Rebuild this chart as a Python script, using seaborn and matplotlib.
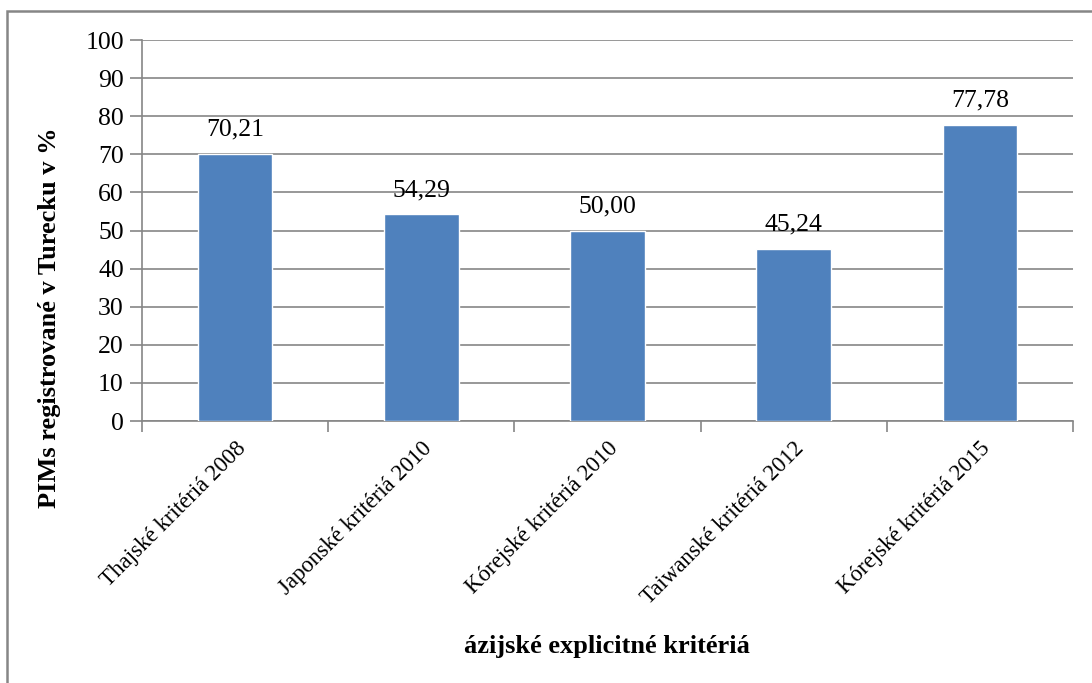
import matplotlib
matplotlib.use("Agg")
import matplotlib.pyplot as plt
import seaborn as sns
import pandas as pd
from matplotlib.patches import Rectangle

categories = ["Thajské kritériá 2008", "Japonské kritériá 2010", "Kórejské kritériá 2010",
              "Taiwanské kritériá 2012", "Kórejské kritériá 2015"]
values = [70.21, 54.29, 50.00, 45.24, 77.78]
y_ticks = [0, 10, 20, 30, 40, 50, 60, 70, 80, 90, 100]

sns.set_style("white")
plt.rcParams["font.family"] = ["Liberation Serif", "DejaVu Serif"]
plt.rcParams["text.color"] = "black"
plt.rcParams["axes.labelcolor"] = "black"

df = pd.DataFrame({"kriterium": categories, "hodnota": values})

fig = plt.figure(figsize=(10.92, 6.83), dpi=100)
ax = fig.add_axes([0.130, 0.3836, 0.8526, 0.5578])

sns.barplot(data=df, x="kriterium", y="hodnota", color="#4F81BD", saturation=1,
            width=0.4, ax=ax, zorder=3)

ax.set_ylim(0, 100)
ax.set_xlim(-0.5, len(categories) - 0.5)
ax.set_yticks(y_ticks)
ax.set_yticklabels([str(t) for t in y_ticks], fontsize=18.5)
ax.yaxis.grid(True, color="#868686", linewidth=1.2, zorder=0)
ax.set_axisbelow(True)

# category boundary ticks on the x axis
ax.set_xticks([i - 0.5 for i in range(len(categories) + 1)], minor=False)
ax.set_xticklabels([])
ax.set_xticks(range(len(categories)), minor=True)
ax.set_xticklabels(categories, minor=True, rotation=45, ha="right",
                   rotation_mode="anchor", fontsize=16.5)
ax.tick_params(axis="x", which="major", length=8, width=1.2, color="#868686", direction="out", bottom=True)
ax.tick_params(axis="x", which="minor", length=0, pad=12, labelcolor="black")
ax.tick_params(axis="y", length=9, width=1.2, color="#868686", direction="out", left=True, pad=4,
               labelcolor="black")

for side in ["top", "right"]:
    ax.spines[side].set_visible(False)
for side in ["left", "bottom"]:
    ax.spines[side].set_color("#868686")
    ax.spines[side].set_linewidth(1.2)

for i, v in enumerate(values):
    ax.text(i, v + 3.4, f"{v:.2f}".replace(".", ","), ha="center", va="bottom", fontsize=18.5,
            color="black")

ax.set_xlabel("ázijské explicitné kritériá", fontsize=19, fontweight="bold", color="black")
ax.xaxis.set_label_coords(0.4995, -0.563)
ax.set_ylabel("PIMs registrované v Turecku v %", fontsize=19, fontweight="bold", color="black")
ax.yaxis.set_label_coords(-0.087, 0.27)

# outer frame around the chart (right and bottom edges fall outside the canvas)
fig.patches.append(Rectangle((0.0060, -0.05), 1.2, 1.0335, transform=fig.transFigure,
                             fill=False, edgecolor="#868686", linewidth=1.8))

fig.savefig("out.png", dpi=100)
